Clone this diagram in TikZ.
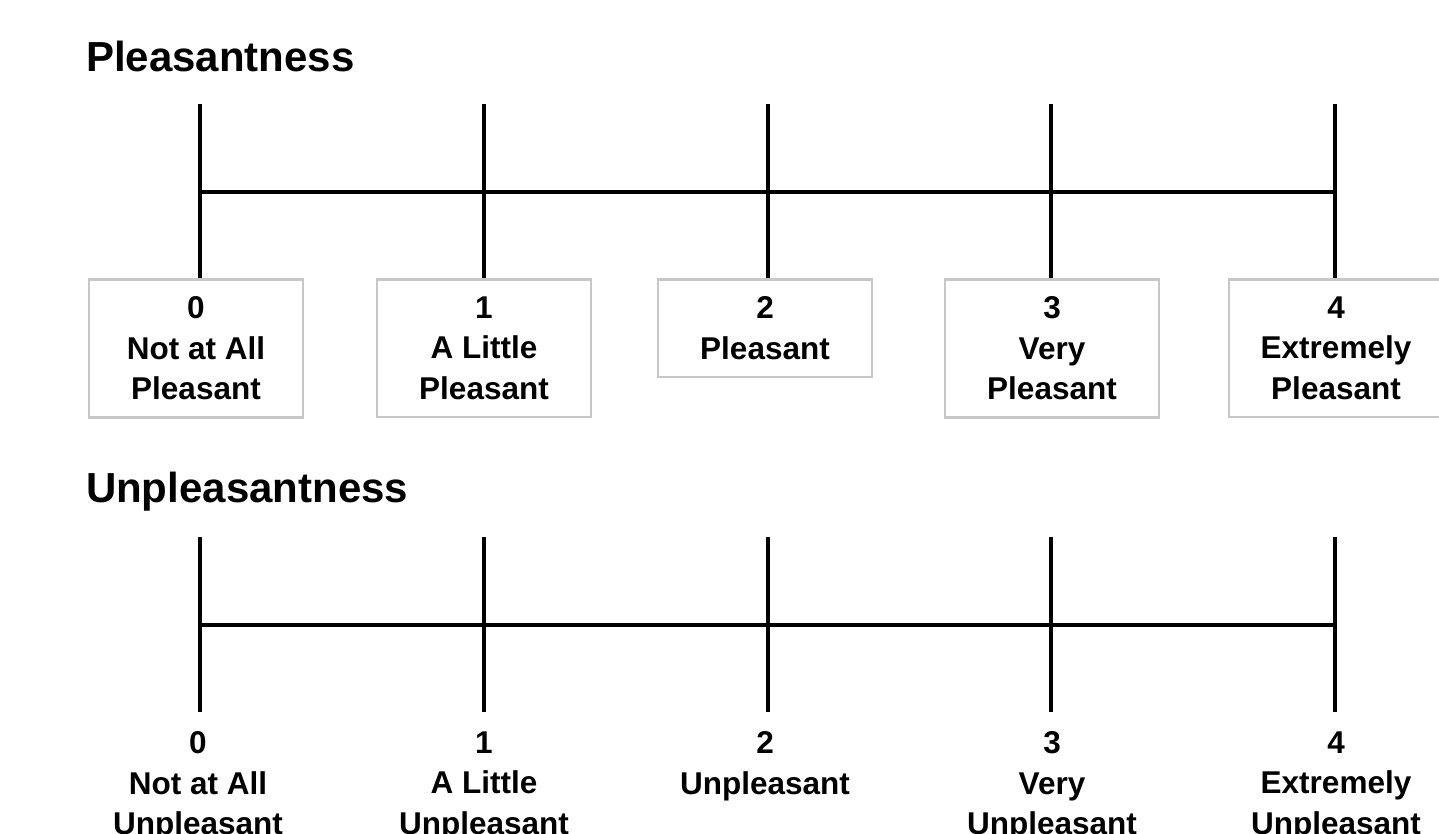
\documentclass[tikz,border=0pt]{standalone}
\usepackage{fontspec}
\setmainfont{Liberation Sans}
\usepackage{tikz}

\begin{document}
\begin{tikzpicture}[x=1pt, y=-1pt, line width=4pt,
  title/.style={anchor=base west, inner sep=0pt, font=\fontsize{42}{50}\selectfont\bfseries},
  label/.style={anchor=north, align=center, inner xsep=0pt, inner ysep=17.5pt,
    minimum width=214pt, font=\fontsize{31.5}{40.5}\selectfont\bfseries},
  labelbox/.style={label, draw=black!22, line width=2.5pt}]
\useasboundingbox (0,0) rectangle (1439,834);
\clip (0,0) rectangle (1439,834);

% Pleasantness scale
\node[title] (P) at (84,72) {Pleasantness};
\coordinate (PA0) at (200 ,104) ;
\coordinate (PA1) at (484 ,104) ;
\coordinate (PA2) at (768 ,104) ;
\coordinate (PA3) at (1051,104) ;
\coordinate (PA4) at (1335,104) ;
\coordinate (PM0) at (200 ,192) ;
\coordinate (PM4) at (1335,192) ;
\node[labelbox] (PB0) at (196 ,278) {0\\Not at All\\Pleasant};
\node[labelbox] (PB1) at (484 ,278) {1\\A Little\\Pleasant};
\node[labelbox] (PB2) at (765 ,278) {2\\Pleasant};
\node[labelbox] (PB3) at (1052,278) {3\\Very\\Pleasant};
\node[labelbox] (PB4) at (1336,278) {4\\Extremely\\Pleasant};
\draw (PM0) -- (PM4);
\draw (PA0) -- (PA0 |- PB0.north);
\draw (PA1) -- (PB1.north);
\draw (PA2) -- (PA2 |- PB2.north);
\draw (PA3) -- (PA3 |- PB3.north);
\draw (PA4) -- (PA4 |- PB4.north);

% Unpleasantness scale
\node[title] (U) at (84,502) {Unpleasantness};
\coordinate (UA0) at (200 ,537) ;
\coordinate (UA1) at (484 ,537) ;
\coordinate (UA2) at (768 ,537) ;
\coordinate (UA3) at (1051,537) ;
\coordinate (UA4) at (1335,537) ;
\coordinate (UM0) at (200 ,625) ;
\coordinate (UM4) at (1335,625) ;
\node[label] (UB0) at (198 ,712) {0\\Not at All\\Unpleasant};
\node[label] (UB1) at (484 ,712) {1\\A Little\\Unpleasant};
\node[label] (UB2) at (765 ,712) {2\\Unpleasant};
\node[label] (UB3) at (1052,712) {3\\Very\\Unpleasant};
\node[label] (UB4) at (1336,712) {4\\Extremely\\Unpleasant};
\draw (UM0) -- (UM4);
\draw (UA0) -- (UA0 |- UB0.north);
\draw (UA1) -- (UB1.north);
\draw (UA2) -- (UA2 |- UB2.north);
\draw (UA3) -- (UA3 |- UB3.north);
\draw (UA4) -- (UA4 |- UB4.north);

\end{tikzpicture}
\end{document}
